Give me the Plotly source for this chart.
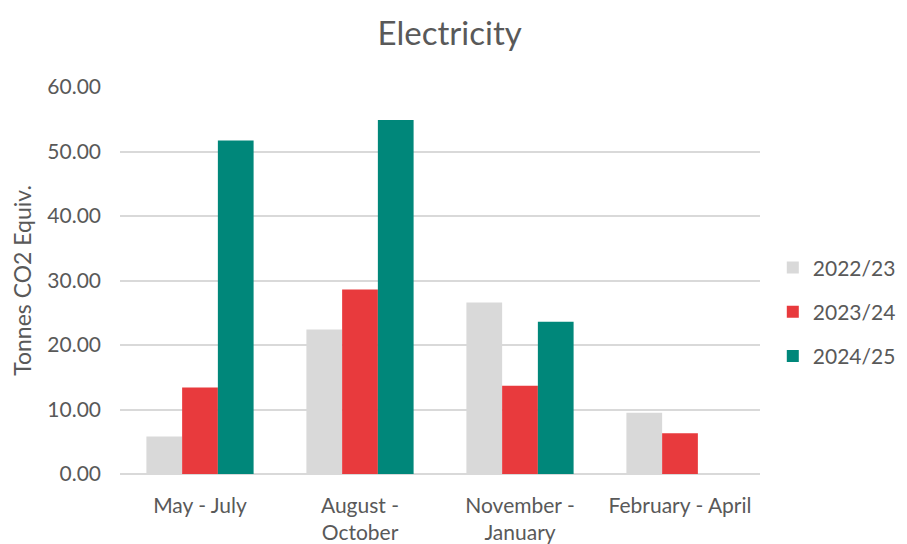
import plotly.graph_objects as go

categories = ["May - July", "August -<br>October", "November -<br>January", "February - April"]
series_names = ["2022/23", "2023/24", "2024/25"]
values_2022 = [5.8, 22.4, 26.6, 9.5]
values_2023 = [13.4, 28.6, 13.7, 6.3]
values_2024 = [51.7, 54.9, 23.6, None]
y_ticks = [0, 10, 20, 30, 40, 50, 60]

colors = ["#d9d9d9", "#e83a3d", "#00877a"]
font_family = "Lato, Open Sans, sans-serif"
text_color = "#595959"

fig = go.Figure()
for i, (name, vals) in enumerate(zip(series_names, [values_2022, values_2023, values_2024])):
    fig.add_trace(
        go.Bar(
            x=categories,
            y=vals,
            name=name,
            legendgroup=name,
            marker=dict(color=colors[i], line=dict(width=0)),
        )
    )

# page has an 8px body margin, so margins are offset by 8px
fig.update_layout(
    width=907,
    height=544,
    paper_bgcolor="white",
    plot_bgcolor="white",
    barmode="group",
    bargap=0.33,
    bargroupgap=0,
    margin=dict(l=112, r=155, t=79, b=78),
    title=dict(
        text="Electricity",
        font=dict(family=font_family, size=33, color=text_color),
        x=0.487,
        xanchor="center",
        y=0.954,
        yanchor="middle",
    ),
    font=dict(family=font_family, color=text_color),
    xaxis=dict(
        showgrid=False,
        showline=False,
        ticks="",
        automargin=False,
        ticklabelstandoff=17,
        tickfont=dict(size=21, color=text_color),
    ),
    yaxis=dict(
        range=[0, 60],
        tickvals=y_ticks,
        tickformat=".2f",
        showgrid=True,
        gridcolor="#d9d9d9",
        gridwidth=1.5,
        zeroline=True,
        zerolinecolor="#d9d9d9",
        zerolinewidth=1.5,
        showline=False,
        ticks="",
        ticklabelstandoff=18,
        tickfont=dict(size=21, color=text_color),
        title=dict(
            text="Tonnes CO2 Equiv.",
            font=dict(size=23, color=text_color),
            standoff=10,
        ),
    ),
    legend=dict(
        x=1.02,
        xanchor="left",
        y=0.419,
        yanchor="middle",
        font=dict(size=21, color=text_color),
        traceorder="grouped",
        tracegroupgap=14,
        itemwidth=30,
    ),
)

fig.write_html("out.html")
